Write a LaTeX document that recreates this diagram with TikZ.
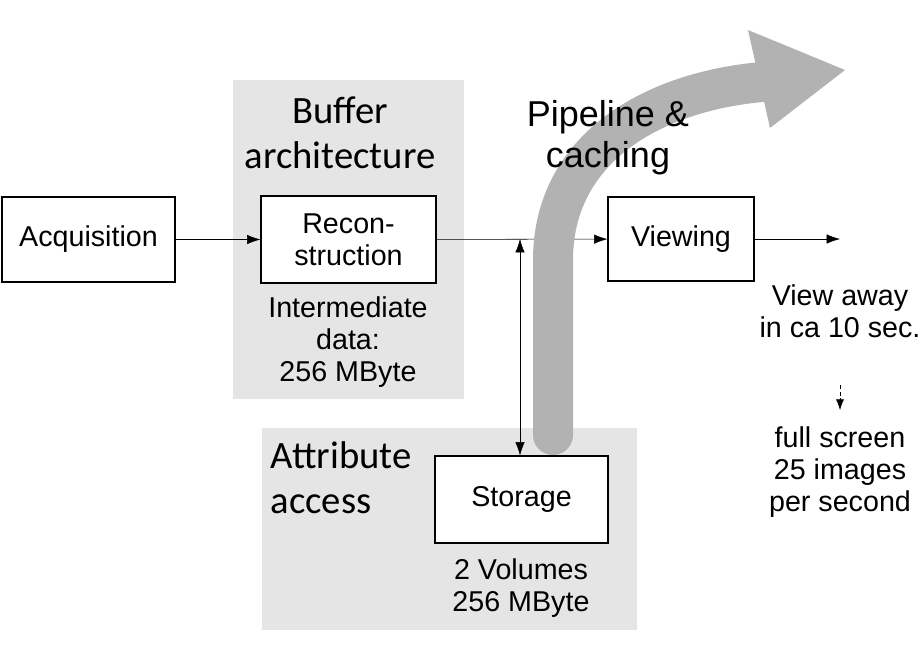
\documentclass[tikz,border=0pt]{standalone}
\usepackage{fontspec}
\usetikzlibrary{arrows.meta}
\setmainfont{Liberation Sans}
\newfontfamily\carlitofont{Carlito}
\begin{document}
\begin{tikzpicture}[x=0.75pt,y=-0.75pt,
 box/.style={draw,thick,fill=white,inner sep=0},
 zone/.style={fill=black!10},
 txt/.style={font=\fontsize{21.5}{24}\selectfont,align=center},
 ctxt/.style={font=\carlitofont\fontsize{29}{34}\selectfont,align=center},
 tip/.style={-{Latex[length=10pt,width=7pt]},thin}]
\useasboundingbox (0,0) rectangle (920,660);
\fill[zone] (233,80) rectangle (464,399);
\fill[zone] (262,428) rectangle (637,630);
\node[box,minimum width=173*0.75pt,minimum height=85*0.75pt,txt] (acq) at (88.5,239.5) {Acquisition};
\node[box,minimum width=175*0.75pt,minimum height=87*0.75pt,txt] (rec) at (348.5,239.5) {Recon-\\struction};
\node[box,minimum width=146*0.75pt,minimum height=84*0.75pt,txt] (view) at (681,239) {Viewing};
\node[box,minimum width=173*0.75pt,minimum height=87*0.75pt,txt] (sto) at (521.5,499.5) {Storage};
\coordinate (end) at (840,239);
\coordinate (j) at (520,239);
\draw[tip] (acq) -- (rec);
\draw[tip] (rec) -- (view);
\draw[tip] (view) -- (end);
\draw[{Latex[length=10pt,width=7pt]}-{Latex[length=10pt,width=7pt]},thin] (j) -- (sto.north -| j);
% big arrow
\draw[line width=30pt,black!30,line cap=round] (553,435) -- (553,260) .. controls (553,150) and (650,92) .. (762,82);
\fill[black!30] (748,30) -- (845,70) -- (770,128) -- cycle;
\node[ctxt] (buf) at (340,133) {Buffer\\architecture};
\node[font=\fontsize{27}{31}\selectfont,align=center] (pipe) at (608,138) {Pipeline \&\\caching};
\node[txt] (inter) at (348,342) {Intermediate\\data:\\256 MByte};
\node[ctxt,align=left,anchor=west] (attr) at (266,478) {Attribute\\access};
\node[txt] (vol) at (521,588) {2 Volumes\\256 MByte};
\node[txt] (va) at (840,311) {View away\\in ca 10 sec.};
\node[txt] (fs) at (840,472) {full screen\\25 images\\per second};
\coordinate (d0) at (840,385);
\coordinate (d1) at (840,410);
\draw[-{Latex[length=8pt,width=6pt]},densely dashed] (d0) -- (d1);
\end{tikzpicture}
\end{document}
